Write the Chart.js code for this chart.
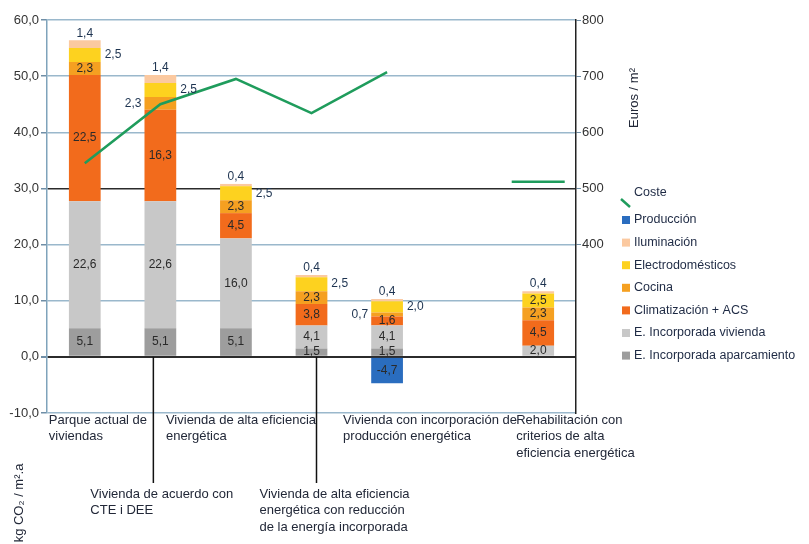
<!DOCTYPE html>
<html>
<head>
<meta charset="utf-8">
<script src="https://cdn.jsdelivr.net/npm/chart.js@4"></script>
<style>
  body { margin: 0; background: #fff; }
  canvas { display: block; }
</style>
</head>
<body>
<canvas id="grafico" width="809" height="544"></canvas>
<script>
const categorias = [
    ['Parque actual de', 'viviendas'],
    ['Vivienda de acuerdo con', 'CTE i DEE'],
    ['Vivienda de alta eficiencia', 'energética'],
    ['Vivienda de alta eficiencia', 'energética con reducción', 'de la energía incorporada'],
    ['Vivienda con incorporación de', 'producción energética'],
    '',
    ['Rehabilitación con', 'criterios de alta', 'eficiencia energética']
];
const aparcamiento = [5.1, 5.1, 5.1, 1.5, 1.5, null, null];
const incorpVivienda = [22.6, 22.6, 16.0, 4.1, 4.1, null, 2.0];
const climatizacion = [22.5, 16.3, 4.5, 3.8, 1.6, null, 4.5];
const cocina = [2.3, 2.3, 2.3, 2.3, 0.7, null, 2.3];
const electrodomesticos = [2.5, 2.5, 2.5, 2.5, 2.0, null, 2.5];
const iluminacion = [1.4, 1.4, 0.4, 0.4, 0.4, null, 0.4];
const produccion = [null, null, null, null, -4.7, null, null];
const coste = [545, 650, 695, 634, 707, null, 512];
const ticksCO2 = [-10, 0, 10, 20, 30, 40, 50, 60];
const ticksEuros = [400, 500, 600, 700, 800];

const fuente = '"Liberation Sans", Arial, sans-serif';
const verde = '#1f9c5c';

// etiquetas de valor en las barras
const etiquetas = {
    id: 'etiquetas',
    afterDatasetsDraw(chart, args, opts) {
        const ctx = chart.ctx;
        ctx.save();
        ctx.font = '12px ' + fuente;
        chart.data.datasets.forEach((ds, i) => {
            if (ds.type === 'line') return;
            const meta = chart.getDatasetMeta(i);
            const lugar = opts.lugar[ds.label] || [];
            meta.data.forEach((bar, j) => {
                const v = ds.data[j];
                if (v == null) return;
                const txt = v.toFixed(1).replace('.', ',');
                const half = bar.width / 2;
                const yc = (bar.y + bar.base) / 2;
                const p = lugar[j] || 'center';
                if (p === 'top') {
                    ctx.fillStyle = '#1d3350';
                    ctx.textAlign = 'center';
                    ctx.textBaseline = 'bottom';
                    ctx.fillText(txt, bar.x, bar.y - 1);
                } else if (p === 'right') {
                    ctx.fillStyle = '#1d3350';
                    ctx.textAlign = 'left';
                    ctx.textBaseline = 'middle';
                    ctx.fillText(txt, bar.x + half + 4, yc);
                } else if (p === 'left') {
                    ctx.fillStyle = '#1d3350';
                    ctx.textAlign = 'right';
                    ctx.textBaseline = 'middle';
                    ctx.fillText(txt, bar.x - half - 3, yc);
                } else {
                    ctx.fillStyle = '#2a2a2a';
                    ctx.textAlign = 'center';
                    ctx.textBaseline = 'middle';
                    ctx.fillText(txt, bar.x, yc);
                }
            });
        });
        ctx.restore();
    }
};

// rotulos de categoria, leyenda y titulos de eje
const decoracion = {
    id: 'decoracion',
    afterDraw(chart, args, opts) {
        const ctx = chart.ctx;
        const xs = chart.scales.x;
        const ys = chart.scales.y;
        const area = chart.chartArea;
        ctx.save();

        ctx.font = '13px ' + fuente;
        ctx.fillStyle = '#222838';
        ctx.textAlign = 'left';
        ctx.textBaseline = 'middle';
        chart.data.labels.forEach((lab, i) => {
            if (!lab) return;
            const cx = xs.getPixelForValue(i);
            const fila = opts.fila[i];
            const y0 = fila === 0 ? area.bottom + 7 : area.bottom + 81;
            if (fila === 1) {
                ctx.strokeStyle = '#111';
                ctx.lineWidth = 1.5;
                ctx.beginPath();
                ctx.moveTo(cx + opts.guiaDx[i], ys.getPixelForValue(0));
                ctx.lineTo(cx + opts.guiaDx[i], area.bottom + 70);
                ctx.stroke();
            }
            lab.forEach((t, k) => ctx.fillText(t, cx + opts.dx[i], y0 + k * 16.5));
        });

        // leyenda
        ctx.font = '12.5px ' + fuente;
        const lx = 622;
        ctx.strokeStyle = verde;
        ctx.lineWidth = 2.5;
        ctx.beginPath();
        ctx.moveTo(lx - 1, 199);
        ctx.lineTo(lx + 8, 207);
        ctx.stroke();
        ctx.fillStyle = '#1e2a44';
        ctx.fillText('Coste', lx + 12, 193);
        const barras = chart.data.datasets.filter(d => d.type !== 'line');
        const orden = [barras[barras.length - 1]].concat(barras.slice(0, -1).reverse());
        orden.forEach((d, k) => {
            const y = 220 + k * 22.6;
            ctx.fillStyle = d.backgroundColor;
            ctx.fillRect(lx, y - 4, 8, 8);
            ctx.fillStyle = '#1e2a44';
            ctx.fillText(d.label, lx + 12, y);
        });

        // titulos de eje
        ctx.font = '13px ' + fuente;
        ctx.fillStyle = '#222838';
        ctx.textAlign = 'center';
        ctx.save();
        ctx.translate(634, 98);
        ctx.rotate(-Math.PI / 2);
        ctx.fillText('Euros / m²', 0, 0);
        ctx.restore();
        ctx.save();
        ctx.translate(19, 503);
        ctx.rotate(-Math.PI / 2);
        ctx.fillText('kg CO₂ / m².a', 0, 0);
        ctx.restore();

        ctx.restore();
    }
};

const grafico = document.getElementById('grafico').getContext('2d');

const myChart = new Chart(grafico, {
    type: 'bar',
    data: {
        labels: categorias,
        datasets: [
            { type: 'line', label: 'Coste', data: coste, yAxisID: 'y2', order: 0,
              borderColor: verde, borderWidth: 2.5, tension: 0, spanGaps: false,
              pointStyle: 'line', pointBorderColor: verde, pointBorderWidth: 2.5,
              pointRadius: [0, 0, 0, 0, 0, 0, 26.5] },
            { label: 'E. Incorporada aparcamiento', data: aparcamiento, backgroundColor: '#9d9d9d', order: 1 },
            { label: 'E. Incorporada vivienda', data: incorpVivienda, backgroundColor: '#c8c8c8', order: 1 },
            { label: 'Climatización + ACS', data: climatizacion, backgroundColor: '#f26b1c', order: 1 },
            { label: 'Cocina', data: cocina, backgroundColor: '#f5a021', order: 1 },
            { label: 'Electrodomésticos', data: electrodomesticos, backgroundColor: '#fdd21f', order: 1 },
            { label: 'Iluminación', data: iluminacion, backgroundColor: '#fbc9a0', order: 1 },
            { label: 'Producción', data: produccion, backgroundColor: '#2a6dbf', order: 1 }
        ]
    },
    options: {
        responsive: false,
        animation: false,
        devicePixelRatio: 1,
        layout: { autoPadding: false, padding: { top: 20, left: 0, right: 0, bottom: 0 } },
        datasets: { bar: { categoryPercentage: 1, barPercentage: 0.42 } },
        plugins: {
            legend: { display: false },
            tooltip: { enabled: false },
            etiquetas: {
                lugar: {
                    'Iluminación': ['top', 'top', 'top', 'top', 'top', null, 'top'],
                    'Electrodomésticos': ['right', 'right', 'right', 'right', 'right', null, 'center'],
                    'Cocina': ['center', 'left', 'center', 'center', 'left', null, 'center']
                }
            },
            decoracion: {
                fila: [0, 1, 0, 1, 0, 0, 0],
                dx: [-36, -70, -70, -52, -44, 0, -22],
                guiaDx: [0, -7, 0, 5, 0, 0, 0]
            }
        },
        scales: {
            x: {
                stacked: true,
                grid: { display: false },
                border: { display: false },
                ticks: { display: false },
                afterFit(s) { s.height = 131; }
            },
            y: {
                stacked: true,
                min: -10,
                max: 60,
                afterBuildTicks(s) { s.ticks = ticksCO2.map(v => ({ value: v })); },
                ticks: {
                    color: '#333',
                    padding: 2,
                    font: { family: fuente, size: 13 },
                    callback: v => v.toFixed(1).replace('.', ',')
                },
                grid: {
                    color: c => (c.tick.value === 0 || c.tick.value === 30) ? '#2b2b2b' : '#9ab8cc',
                    lineWidth: c => c.tick.value === 0 ? 2 : 1.5,
                    tickLength: 6,
                    tickColor: '#6f8ea6'
                },
                border: { color: '#7fa3bb', width: 1.5 },
                afterFit(s) { s.width = 47; s.paddingTop = 0; s.paddingBottom = 0; }
            },
            y2: {
                position: 'right',
                min: 100,
                max: 800,
                afterBuildTicks(s) { s.ticks = ticksEuros.map(v => ({ value: v })); },
                ticks: {
                    color: '#333',
                    padding: 1,
                    font: { family: fuente, size: 13 }
                },
                grid: { drawOnChartArea: false, tickLength: 5, tickColor: '#6f8ea6' },
                border: { color: '#222', width: 1.5 },
                afterFit(s) { s.width = 233; s.paddingTop = 0; s.paddingBottom = 0; }
            }
        }
    },
    plugins: [etiquetas, decoracion]
});
</script>
</body>
</html>
